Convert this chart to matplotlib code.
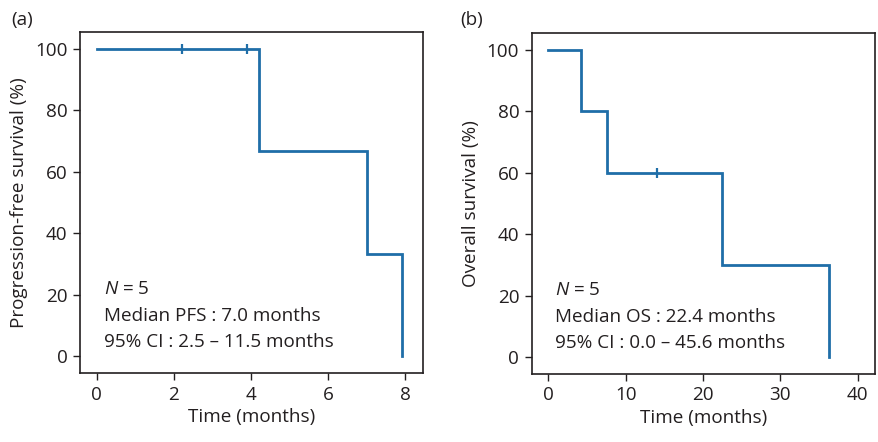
import matplotlib.pyplot as plt

plt.rcParams['font.family'] = ['Open Sans', 'DejaVu Sans']
plt.rcParams['mathtext.fontset'] = 'custom'
plt.rcParams['mathtext.it'] = 'Open Sans:italic'
plt.rcParams['mathtext.rm'] = 'Open Sans'

# ───── Data ─────
pfs_time    = [0, 4.2, 7.0, 7.9]
pfs_surv    = [100, 66.7, 33.3, 0]
pfs_censor  = [2.2, 3.9]
pfs_censor_y = [100, 100]

os_time     = [0, 4.2, 7.6, 22.4, 36.3]
os_surv     = [100, 80, 60, 30, 0]
os_censor   = [14.1]
os_censor_y = [60]

pfs_notes = ['Median PFS : 7.0 months', '95% CI : 2.5 \u2013 11.5 months']
os_notes  = ['Median OS : 22.4 months', '95% CI : 0.0 \u2013 45.6 months']

BLUE = '#1f6ea8'
TXT  = '#231f20'
FS   = 13.6


def km_steps(t, s):
    xs, ys = [t[0]], [s[0]]
    for i in range(1, len(t)):
        xs += [t[i], t[i]]
        ys += [s[i - 1], s[i]]
    return xs, ys


def draw_panel(ax, t, s, ct, cs, xlim, xticks, ylabel, notes, note_x):
    xs, ys = km_steps(t, s)
    ax.plot(xs, ys, color=BLUE, lw=2, solid_joinstyle='miter')
    ax.plot(ct, cs, ls='none', marker='|', ms=7, mew=1.6, color=BLUE)
    ax.set_xlim(*xlim)
    ax.set_ylim(-5.5, 105.5)
    ax.set_xticks(xticks)
    ax.set_yticks([0, 20, 40, 60, 80, 100])
    ax.tick_params(direction='out', length=5, width=1, labelsize=FS,
                   colors=TXT, pad=4)
    ax.set_xlabel('Time (months)', fontsize=FS, color=TXT, labelpad=3)
    ax.set_ylabel(ylabel, fontsize=FS, color=TXT, labelpad=5)
    for sp in ax.spines.values():
        sp.set_linewidth(1.2)
        sp.set_color(TXT)
    ax.text(note_x, 21.8, r'$N$ = 5', fontsize=FS, color=TXT, va='center')
    ax.text(note_x, 13.0, notes[0], fontsize=FS, color=TXT, va='center')
    ax.text(note_x, 4.5, notes[1], fontsize=FS, color=TXT, va='center')


fig = plt.figure(figsize=(8.79, 4.42), dpi=100)
ax1 = fig.add_axes([0.091, 0.156, 0.390, 0.772])
ax2 = fig.add_axes([0.605, 0.154, 0.390, 0.772])

draw_panel(ax1, pfs_time, pfs_surv, pfs_censor, pfs_censor_y,
           (-0.43, 8.45), [0, 2, 4, 6, 8], 'Progression-free survival (%)',
           pfs_notes, 0.2)
draw_panel(ax2, os_time, os_surv, os_censor, os_censor_y,
           (-2.15, 42.2), [0, 10, 20, 30, 40], 'Overall survival (%)',
           os_notes, 0.87)

fig.text(0.013, 0.955, '(a)', fontsize=FS, color=TXT, va='center')
fig.text(0.524, 0.955, '(b)', fontsize=FS, color=TXT, va='center')

fig.savefig('out.png', dpi=100)
